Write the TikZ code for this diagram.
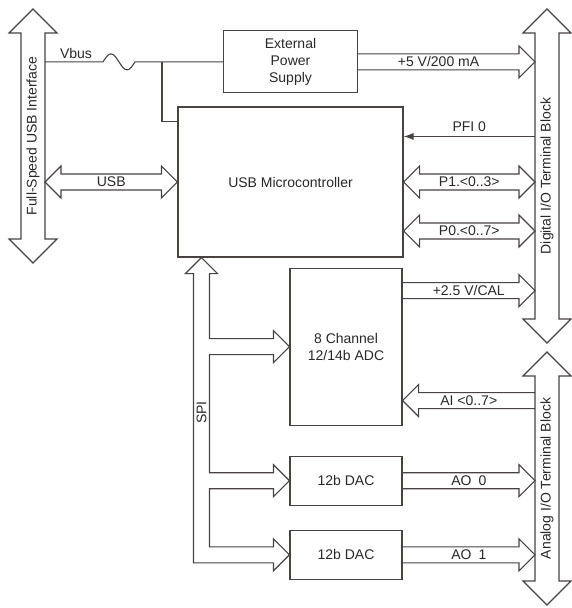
\documentclass[tikz,border=0pt]{standalone}
\usepackage{fontspec}
\setmainfont{Liberation Sans}
\usepackage{tikz}
\usetikzlibrary{positioning,calc,arrows.meta}

\definecolor{ink}{RGB}{72,66,64}
\definecolor{txt}{RGB}{40,40,40}

% wide bus arrows: [label opts]{label name}{from}{to}{label}
\newcommand{\busR}[5][]{%
  \draw[bus] let \p1=(#3), \p2=(#4) in
    (\x1,{\y1+8pt}) -- ({\x2-16pt},{\y1+8pt}) -- ({\x2-16pt},{\y1+16pt}) -- (\x2,\y1)
    -- ({\x2-16pt},{\y1-16pt}) -- ({\x2-16pt},{\y1-8pt}) -- (\x1,{\y1-8pt})
    ({(\x1+\x2)/2},\y1) node[lbl,#1] (#2) {#5};}
\newcommand{\busL}[5][]{%
  \draw[bus] let \p1=(#3), \p2=(#4) in
    (\x1,{\y1+8pt}) -- ({\x2+16pt},{\y1+8pt}) -- ({\x2+16pt},{\y1+16pt}) -- (\x2,\y1)
    -- ({\x2+16pt},{\y1-16pt}) -- ({\x2+16pt},{\y1-8pt}) -- (\x1,{\y1-8pt})
    ({(\x1+\x2)/2},\y1) node[lbl,#1] (#2) {#5};}
\newcommand{\busLR}[5][]{%
  \draw[bus] let \p1=(#3), \p2=(#4) in
    (\x1,\y1) -- ({\x1+16pt},{\y1+16pt}) -- ({\x1+16pt},{\y1+8pt}) -- ({\x2-16pt},{\y1+8pt})
    -- ({\x2-16pt},{\y1+16pt}) -- (\x2,\y1) -- ({\x2-16pt},{\y1-16pt}) -- ({\x2-16pt},{\y1-8pt})
    -- ({\x1+16pt},{\y1-8pt}) -- ({\x1+16pt},{\y1-16pt}) -- cycle
    ({(\x1+\x2)/2},\y1) node[lbl,#1] (#2) {#5};}
% vertical terminal block arrow: {name}{top tip}{bottom tip}{text}
\newcommand{\termblk}[4]{%
  \draw[bus] let \p1=(#2), \p2=(#3) in
    (\x1,\y1) -- ({\x1+24pt},{\y1-24pt}) -- ({\x1+12pt},{\y1-24pt}) -- ({\x1+12pt},{\y2+24pt})
    -- ({\x1+24pt},{\y2+24pt}) -- (\x1,\y2) -- ({\x1-24pt},{\y2+24pt}) -- ({\x1-12pt},{\y2+24pt})
    -- ({\x1-12pt},{\y1-24pt}) -- ({\x1-24pt},{\y1-24pt}) -- cycle
    (\x1,{(\y1+\y2)/2}) node[lbl,rotate=90] (#1) {#4};}

\begin{document}
\begin{tikzpicture}[
    x=1pt, y=-1pt,
    every node/.style={font=\fontsize{14}{17}\selectfont, text=txt},
    block/.style={rectangle, draw=ink, line width=1.1pt, inner sep=0pt, align=center},
    bus/.style={draw=ink, line width=1.1pt},
    wire/.style={draw=ink, line width=1.1pt},
    sig/.style={draw=ink, line width=1.1pt, -{Latex[length=10pt,width=7pt]}},
    lbl/.style={inner sep=0pt}
]
\useasboundingbox (0,0) rectangle (571,608);

% Terminal blocks
\coordinate (usbT) at (33,9);   \coordinate (usbB) at (33,263);
\coordinate (dioT) at (547,9);  \coordinate (dioB) at (547,343);
\coordinate (aioT) at (547,352); \coordinate (aioB) at (547,605);
\coordinate (usbR) at ($(usbT)+(12,0)$);
\coordinate (dioL) at ($(dioT)+(-12,0)$);
\termblk{tusb}{usbT}{usbB}{Full-Speed USB Interface}
\termblk{tdio}{dioT}{dioB}{Digital I/O Terminal Block}
\termblk{taio}{aioT}{aioB}{Analog I/O Terminal Block}

% Blocks
\node[block, minimum width=225pt, minimum height=150pt] (mcu) at (290.5,182) {USB Microcontroller};
\node[block, minimum width=134pt, minimum height=62pt, above=13pt of mcu] (ext) {External\\Power\\Supply};
\node[block, minimum width=112pt, minimum height=157pt, anchor=north east] (adc) at ($(mcu.south east)+(-1,10)$) {8 Channel\\12/14b ADC};
\node[block, minimum width=112pt, minimum height=49pt, below=30pt of adc] (dac1) {12b DAC};
\node[block, minimum width=112pt, minimum height=49pt, below=24pt of dac1] (dac2) {12b DAC};

% Vbus with fuse
\node[lbl] (vbus) at (76,53) {Vbus};
\draw[wire] (ext.west -| usbR) -- ++(58,0) sin ++(8,-8) cos ++(8,8) sin ++(8,8) cos ++(8,-8) -- (ext.west);
\coordinate (vj) at ($(ext.west)+(-61,0)$);
\draw[wire] (vj) |- ($(mcu.north west)+(0,15)$);

% USB side
\busLR{lusb}{mcu.west -| usbR}{mcu.west}{USB}

% Digital side
\busR[xshift=-8pt]{l5v}{ext.east}{ext.east -| dioL}{+5 V/200 mA}
\coordinate (pfi) at ($(mcu.north east)+(0,30)$);
\draw[sig] (pfi -| dioL) -- node[lbl, above=4pt] (lpfi) {PFI 0} (pfi);
\busLR{lp1}{mcu.east}{mcu.east -| dioL}{P1.<0..3>}
\coordinate (p0) at ($(mcu.east)+(0,49)$);
\busLR{lp0}{p0}{p0 -| dioL}{P0.<0..7>}
\coordinate (cal) at ($(adc.north east)+(0,23)$);
\busR{lcal}{cal}{cal -| dioL}{+2.5 V/CAL}

% Analog side
\coordinate (ai) at ($(adc.north east)+(0,133)$);
\busL{lai}{ai -| dioL}{ai}{AI <0..7>}
\busR{lao0}{dac1.east}{dac1.east -| dioL}{AO\enspace 0}
\busR{lao1}{dac2.east}{dac2.east -| dioL}{AO\enspace 1}

% SPI bus
\coordinate (spitip) at ($(mcu.south west)+(24,0)$);
\draw[bus] (spitip) -- ++(16,16) -- ++(-8,0)
  |- ($(adc.west)+(-16,-8)$) -- ++(0,-8) -- (adc.west) -- ++(-16,16) -- ++(0,-8) -- ++(-64,0)
  |- ($(dac1.west)+(-16,-8)$) -- ++(0,-8) -- (dac1.west) -- ++(-16,16) -- ++(0,-8) -- ++(-64,0)
  |- ($(dac2.west)+(-16,-8)$) -- ++(0,-8) -- (dac2.west) -- ++(-16,16) -- ++(0,-8) -- ++(-80,0)
  |- ($(spitip)+(-8,16)$) -- ++(-8,0) -- cycle;
\node[lbl, rotate=90] (spi) at ($(spitip)+(0,155)$) {SPI};

\end{tikzpicture}
\end{document}
